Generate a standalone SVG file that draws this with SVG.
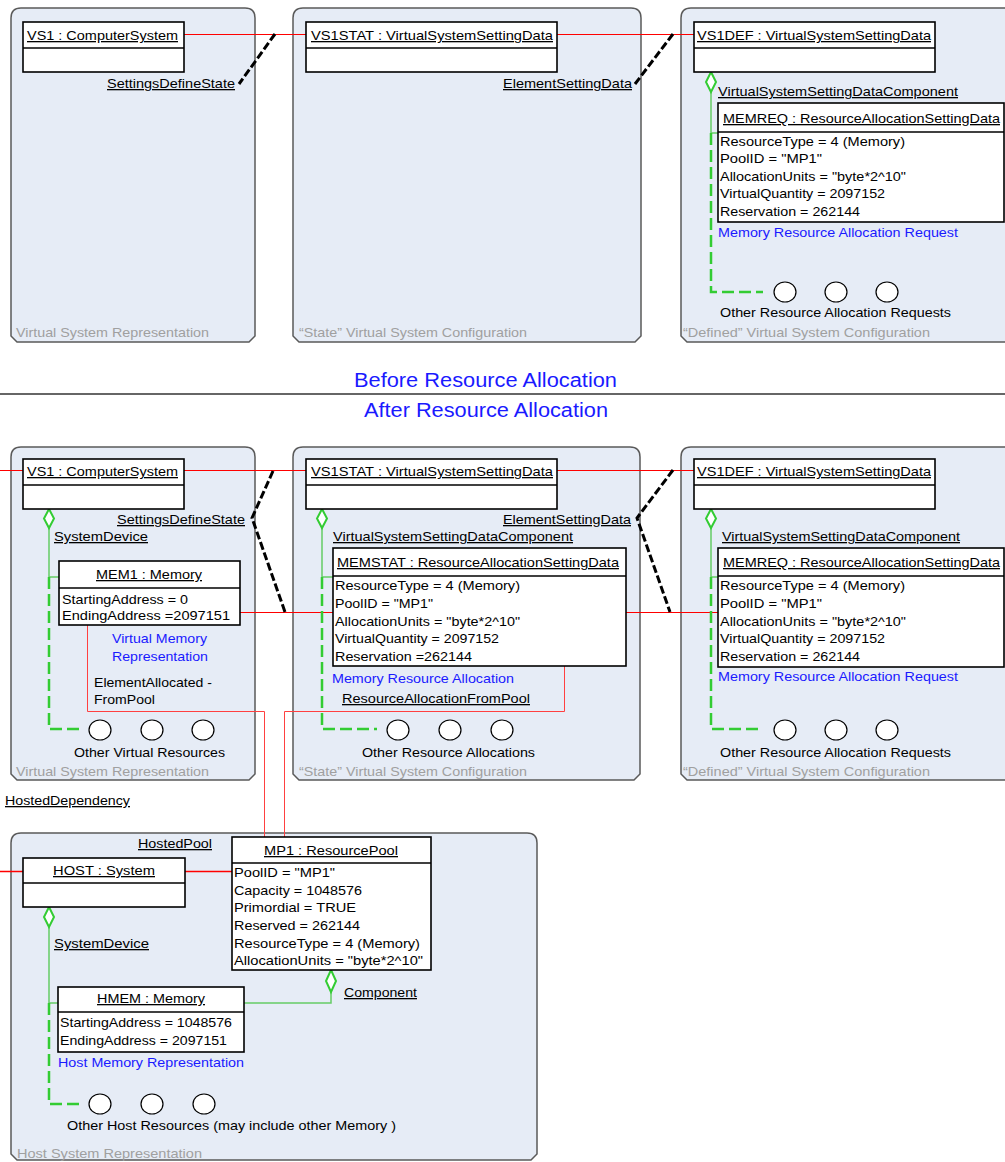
<svg xmlns="http://www.w3.org/2000/svg" width="1005" height="1162" viewBox="0 0 1005 1162">
<style>
.panel{fill:#e6ecf6;stroke:#5a5a5a;stroke-width:1.5}
.box{fill:#fff;stroke:#000;stroke-width:1.6}
.div{stroke:#000;stroke-width:1.6}
text{font-family:"Liberation Sans",Arial,sans-serif;font-size:13px;fill:#000}
.u{text-decoration:underline}
.blue{fill:#1a1aff}
.gray{fill:#a0a0a0}
.title{font-size:20px;fill:#1a1aff}
.red{stroke:#ff0000;stroke-width:1;fill:none}
.redl{stroke:#ff4040;stroke-width:1;fill:none}
.blk{stroke:#000;stroke-width:3;stroke-dasharray:8 3;fill:none}
.gs{stroke:#66cc66;stroke-width:1.5;fill:none}
.gd{stroke:#33cc33;stroke-width:2.5;stroke-dasharray:12 5;fill:none}
.dia{fill:#fff;stroke:#33cc33;stroke-width:2}
.circ{fill:#fff;stroke:#000;stroke-width:1.2}
</style>

<!-- Panels -->
<g id="panels">
<path class="panel" d="M11,18 Q11,8 21,8 H245 Q255,8 255,18 V336 L249,342 H17 L11,336 Z"/>
<path class="panel" d="M293,18 Q293,8 303,8 H631 Q641,8 641,18 V336 L635,342 H299 L293,336 Z"/>
<path class="panel" d="M681,18 Q681,8 691,8 H1015 V342 H687 L681,336 Z"/>
<path class="panel" d="M11,457 Q11,447 21,447 H245 Q255,447 255,457 V774 L249,780 H17 L11,774 Z"/>
<path class="panel" d="M293,457 Q293,447 303,447 H630 Q640,447 640,457 V774 L634,780 H299 L293,774 Z"/>
<path class="panel" d="M681,457 Q681,447 691,447 H1015 V780 H687 L681,774 Z"/>
<path class="panel" d="M11,843 Q11,833 21,833 H527 Q537,833 537,843 V1154 L531,1160 H17 L11,1154 Z"/>
<text class="gray" x="16" y="337" textLength="193" lengthAdjust="spacingAndGlyphs">Virtual System Representation</text>
<text class="gray" x="299" y="337" textLength="228" lengthAdjust="spacingAndGlyphs">“State” Virtual System Configuration</text>
<text class="gray" x="683" y="337" textLength="247" lengthAdjust="spacingAndGlyphs">“Defined” Virtual System Configuration</text>
<text class="gray" x="16" y="776" textLength="193" lengthAdjust="spacingAndGlyphs">Virtual System Representation</text>
<text class="gray" x="299" y="776" textLength="228" lengthAdjust="spacingAndGlyphs">“State” Virtual System Configuration</text>
<text class="gray" x="683" y="776" textLength="247" lengthAdjust="spacingAndGlyphs">“Defined” Virtual System Configuration</text>
<text class="gray" x="17" y="1158" textLength="185" lengthAdjust="spacingAndGlyphs">Host System Representation</text>
</g>

<!-- Section divider -->
<g id="divider">
<line x1="0" y1="394" x2="1005" y2="394" stroke="#333" stroke-width="1.5"/>
<text class="title" x="354" y="387" textLength="263" lengthAdjust="spacingAndGlyphs">Before Resource Allocation</text>
<text class="title" x="364" y="417" textLength="244" lengthAdjust="spacingAndGlyphs">After Resource Allocation</text>
</g>

<!-- Connectors -->
<g id="connectors">
<path class="red" d="M184,34.5 H306 M557,34.5 H694"/>
<path class="red" d="M0,470.5 H23 M184,470.5 H306 M557,470.5 H694 M240,612.5 H333 M626,612.5 H718"/>
<path class="redl" d="M87.5,625 V711.5 H264.5 V837 M564.5,666 V711.5 H284.5 V837"/>
<path class="red" style="stroke-width:1.3" d="M0,871.5 H23 M185,871.5 H232"/>
<path class="blk" d="M275,34 L239,84 M673,34 L635,84"/>
<path class="blk" d="M273,471 L252,518 L285,612 M673,470 L637,518 L670,612"/>
<!-- green compositions -->
<path class="gs" d="M711,92 V133 H718"/>
<path class="gd" d="M711,133 V292 H763"/>
<polygon class="dia" points="711,72 716,82 711,92 706,82"/>
<path class="gs" d="M49,528 V577 H59"/>
<path class="gd" d="M49,577 V729 H82"/>
<polygon class="dia" points="49,509 54,518.5 49,528 44,518.5"/>
<path class="gs" d="M322,528 V577 H333"/>
<path class="gd" d="M322,577 V729 H377"/>
<polygon class="dia" points="322,509 327,518.5 322,528 317,518.5"/>
<path class="gs" d="M711,528 V577 H718"/>
<path class="gd" d="M711,577 V729 H760"/>
<polygon class="dia" points="711,509 716,518.5 711,528 706,518.5"/>
<path class="gs" d="M49,927 V1003 H58"/>
<path class="gd" d="M49,1003 V1104 H80"/>
<polygon class="dia" points="49,907 54,917 49,927 44,917"/>
<path class="gs" d="M331,992 V1003 H244"/>
<polygon class="dia" points="331,970 336,981 331,992 326,981"/>
<!-- association labels -->
<text class="u" x="107" y="88" textLength="128" lengthAdjust="spacingAndGlyphs">SettingsDefineState</text>
<text class="u" x="503" y="88" textLength="129" lengthAdjust="spacingAndGlyphs">ElementSettingData</text>
<text class="u" x="718" y="96" textLength="240" lengthAdjust="spacingAndGlyphs">VirtualSystemSettingDataComponent</text>
<text class="u" x="117" y="524" textLength="128" lengthAdjust="spacingAndGlyphs">SettingsDefineState</text>
<text class="u" x="503" y="524" textLength="128" lengthAdjust="spacingAndGlyphs">ElementSettingData</text>
<text class="u" x="54" y="541" textLength="94" lengthAdjust="spacingAndGlyphs">SystemDevice</text>
<text class="u" x="333" y="541" textLength="240" lengthAdjust="spacingAndGlyphs">VirtualSystemSettingDataComponent</text>
<text class="u" x="722" y="541" textLength="238" lengthAdjust="spacingAndGlyphs">VirtualSystemSettingDataComponent</text>
<text x="94" y="687" textLength="118" lengthAdjust="spacingAndGlyphs">ElementAllocated -</text>
<text x="94" y="704" textLength="61" lengthAdjust="spacingAndGlyphs">FromPool</text>
<text class="u" x="342" y="703" textLength="188" lengthAdjust="spacingAndGlyphs">ResourceAllocationFromPool</text>
<text class="u" x="5" y="805" textLength="125" lengthAdjust="spacingAndGlyphs">HostedDependency</text>
<text class="u" x="138" y="848" textLength="74" lengthAdjust="spacingAndGlyphs">HostedPool</text>
<text class="u" x="54" y="948" textLength="95" lengthAdjust="spacingAndGlyphs">SystemDevice</text>
<text class="u" x="344" y="997" textLength="73" lengthAdjust="spacingAndGlyphs">Component</text>
</g>

<!-- Top section nodes -->
<g id="top-vs1">
<rect class="box" x="23" y="22" width="161" height="50"/>
<line class="div" x1="23" y1="48" x2="184" y2="48"/>
<text class="u" x="27" y="40" textLength="151" lengthAdjust="spacingAndGlyphs">VS1 : ComputerSystem</text>
</g>
<g id="top-vs1stat">
<rect class="box" x="306" y="22" width="251" height="50"/>
<line class="div" x1="306" y1="48" x2="557" y2="48"/>
<text class="u" x="311" y="40" textLength="242" lengthAdjust="spacingAndGlyphs">VS1STAT : VirtualSystemSettingData</text>
</g>
<g id="top-vs1def">
<rect class="box" x="694" y="22" width="241" height="50"/>
<line class="div" x1="694" y1="48" x2="935" y2="48"/>
<text class="u" x="697" y="40" textLength="234" lengthAdjust="spacingAndGlyphs">VS1DEF : VirtualSystemSettingData</text>
</g>
<g id="top-memreq">
<rect class="box" x="718" y="103" width="286" height="119"/>
<line class="div" x1="718" y1="132" x2="1004" y2="132"/>
<text class="u" x="723" y="123" textLength="277" lengthAdjust="spacingAndGlyphs">MEMREQ : ResourceAllocationSettingData</text>
<text x="720" y="146" textLength="185" lengthAdjust="spacingAndGlyphs">ResourceType = 4 (Memory)</text>
<text x="720" y="163" textLength="102" lengthAdjust="spacingAndGlyphs">PoolID = "MP1"</text>
<text x="720" y="181" textLength="186" lengthAdjust="spacingAndGlyphs">AllocationUnits = "byte*2^10"</text>
<text x="720" y="198" textLength="165" lengthAdjust="spacingAndGlyphs">VirtualQuantity = 2097152</text>
<text x="720" y="216" textLength="140" lengthAdjust="spacingAndGlyphs">Reservation = 262144</text>
<text class="blue" x="718" y="237" textLength="240" lengthAdjust="spacingAndGlyphs">Memory Resource Allocation Request</text>
</g>
<g id="top-other-requests">
<ellipse class="circ" cx="785" cy="292" rx="11" ry="10"/>
<ellipse class="circ" cx="836" cy="292" rx="11" ry="10"/>
<ellipse class="circ" cx="887" cy="292" rx="11" ry="10"/>
<text x="720" y="317" textLength="231" lengthAdjust="spacingAndGlyphs">Other Resource Allocation Requests</text>
</g>

<!-- Bottom section nodes -->
<g id="vs1">
<rect class="box" x="23" y="459" width="161" height="50"/>
<line class="div" x1="23" y1="485" x2="184" y2="485"/>
<text class="u" x="27" y="476" textLength="151" lengthAdjust="spacingAndGlyphs">VS1 : ComputerSystem</text>
</g>
<g id="vs1stat">
<rect class="box" x="306" y="459" width="251" height="50"/>
<line class="div" x1="306" y1="485" x2="557" y2="485"/>
<text class="u" x="311" y="476" textLength="242" lengthAdjust="spacingAndGlyphs">VS1STAT : VirtualSystemSettingData</text>
</g>
<g id="vs1def">
<rect class="box" x="694" y="459" width="241" height="50"/>
<line class="div" x1="694" y1="485" x2="935" y2="485"/>
<text class="u" x="697" y="476" textLength="234" lengthAdjust="spacingAndGlyphs">VS1DEF : VirtualSystemSettingData</text>
</g>
<g id="mem1">
<rect class="box" x="59" y="561" width="181" height="64"/>
<line class="div" x1="59" y1="588" x2="240" y2="588"/>
<text class="u" x="96" y="579" textLength="106" lengthAdjust="spacingAndGlyphs">MEM1 : Memory</text>
<text x="62" y="604" textLength="126" lengthAdjust="spacingAndGlyphs">StartingAddress = 0</text>
<text x="62" y="620" textLength="168" lengthAdjust="spacingAndGlyphs">EndingAddress =2097151</text>
<text class="blue" x="112" y="643" textLength="95" lengthAdjust="spacingAndGlyphs">Virtual Memory</text>
<text class="blue" x="112" y="661" textLength="96" lengthAdjust="spacingAndGlyphs">Representation</text>
</g>
<g id="memstat">
<rect class="box" x="333" y="548" width="293" height="118"/>
<line class="div" x1="333" y1="576" x2="626" y2="576"/>
<text class="u" x="337" y="567" textLength="282" lengthAdjust="spacingAndGlyphs">MEMSTAT : ResourceAllocationSettingData</text>
<text x="335" y="590" textLength="185" lengthAdjust="spacingAndGlyphs">ResourceType = 4 (Memory)</text>
<text x="335" y="608" textLength="98" lengthAdjust="spacingAndGlyphs">PoolID = "MP1"</text>
<text x="335" y="626" textLength="185" lengthAdjust="spacingAndGlyphs">AllocationUnits = "byte*2^10"</text>
<text x="335" y="643" textLength="164" lengthAdjust="spacingAndGlyphs">VirtualQuantity = 2097152</text>
<text x="335" y="661" textLength="137" lengthAdjust="spacingAndGlyphs">Reservation =262144</text>
<text class="blue" x="332" y="683" textLength="182" lengthAdjust="spacingAndGlyphs">Memory Resource Allocation</text>
</g>
<g id="memreq">
<rect class="box" x="718" y="548" width="286" height="119"/>
<line class="div" x1="718" y1="576" x2="1004" y2="576"/>
<text class="u" x="723" y="567" textLength="277" lengthAdjust="spacingAndGlyphs">MEMREQ : ResourceAllocationSettingData</text>
<text x="720" y="590" textLength="185" lengthAdjust="spacingAndGlyphs">ResourceType = 4 (Memory)</text>
<text x="720" y="608" textLength="102" lengthAdjust="spacingAndGlyphs">PoolID = "MP1"</text>
<text x="720" y="626" textLength="186" lengthAdjust="spacingAndGlyphs">AllocationUnits = "byte*2^10"</text>
<text x="720" y="643" textLength="165" lengthAdjust="spacingAndGlyphs">VirtualQuantity = 2097152</text>
<text x="720" y="661" textLength="140" lengthAdjust="spacingAndGlyphs">Reservation = 262144</text>
<text class="blue" x="718" y="681" textLength="240" lengthAdjust="spacingAndGlyphs">Memory Resource Allocation Request</text>
</g>
<g id="other-virtual">
<ellipse class="circ" cx="100" cy="730" rx="11" ry="10"/>
<ellipse class="circ" cx="152" cy="730" rx="11" ry="10"/>
<ellipse class="circ" cx="203" cy="730" rx="11" ry="10"/>
<text x="74" y="757" textLength="151" lengthAdjust="spacingAndGlyphs">Other Virtual Resources</text>
</g>
<g id="other-allocations">
<ellipse class="circ" cx="398" cy="730" rx="11" ry="10"/>
<ellipse class="circ" cx="450" cy="730" rx="11" ry="10"/>
<ellipse class="circ" cx="502" cy="730" rx="11" ry="10"/>
<text x="362" y="757" textLength="173" lengthAdjust="spacingAndGlyphs">Other Resource Allocations</text>
</g>
<g id="other-requests">
<ellipse class="circ" cx="785" cy="730" rx="11" ry="10"/>
<ellipse class="circ" cx="836" cy="730" rx="11" ry="10"/>
<ellipse class="circ" cx="887" cy="730" rx="11" ry="10"/>
<text x="720" y="757" textLength="231" lengthAdjust="spacingAndGlyphs">Other Resource Allocation Requests</text>
</g>

<!-- Host nodes -->
<g id="host">
<rect class="box" x="23" y="858" width="162" height="49"/>
<line class="div" x1="23" y1="883" x2="185" y2="883"/>
<text class="u" x="53" y="875" textLength="102" lengthAdjust="spacingAndGlyphs">HOST : System</text>
</g>
<g id="mp1">
<rect class="box" x="232" y="837" width="199" height="133"/>
<line class="div" x1="232" y1="863" x2="431" y2="863"/>
<text class="u" x="264" y="855" textLength="134" lengthAdjust="spacingAndGlyphs">MP1 : ResourcePool</text>
<text x="234" y="877" textLength="101" lengthAdjust="spacingAndGlyphs">PoolID = "MP1"</text>
<text x="234" y="895" textLength="128" lengthAdjust="spacingAndGlyphs">Capacity = 1048576</text>
<text x="234" y="912" textLength="122" lengthAdjust="spacingAndGlyphs">Primordial = TRUE</text>
<text x="234" y="930" textLength="126" lengthAdjust="spacingAndGlyphs">Reserved = 262144</text>
<text x="234" y="948" textLength="186" lengthAdjust="spacingAndGlyphs">ResourceType = 4 (Memory)</text>
<text x="234" y="965" textLength="189" lengthAdjust="spacingAndGlyphs">AllocationUnits = "byte*2^10"</text>
</g>
<g id="hmem">
<rect class="box" x="58" y="987" width="186" height="65"/>
<line class="div" x1="58" y1="1012" x2="244" y2="1012"/>
<text class="u" x="97" y="1003" textLength="108" lengthAdjust="spacingAndGlyphs">HMEM : Memory</text>
<text x="60" y="1027" textLength="172" lengthAdjust="spacingAndGlyphs">StartingAddress = 1048576</text>
<text x="60" y="1045" textLength="167" lengthAdjust="spacingAndGlyphs">EndingAddress = 2097151</text>
<text class="blue" x="58" y="1067" textLength="186" lengthAdjust="spacingAndGlyphs">Host Memory Representation</text>
</g>
<g id="other-host">
<ellipse class="circ" cx="100" cy="1104" rx="11" ry="10"/>
<ellipse class="circ" cx="152" cy="1104" rx="11" ry="10"/>
<ellipse class="circ" cx="204" cy="1104" rx="11" ry="10"/>
<text x="67" y="1130" textLength="329" lengthAdjust="spacingAndGlyphs">Other Host Resources (may include other Memory )</text>
</g>
</svg>
